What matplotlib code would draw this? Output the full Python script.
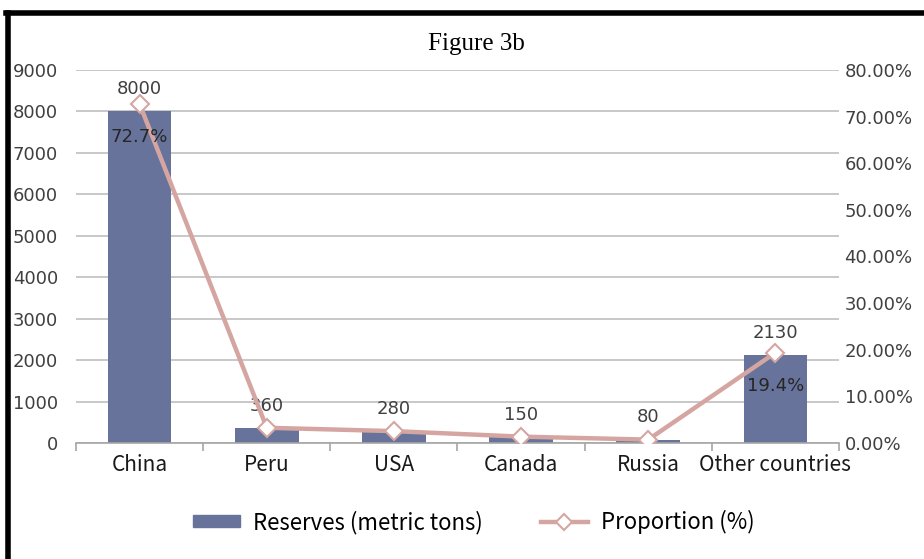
import numpy as np
import matplotlib.pyplot as plt
from matplotlib.patches import Patch
from matplotlib.lines import Line2D

# Data
countries = ["China", "Peru", "USA", "Canada", "Russia", "Other countries"]
reserves = [8000, 360, 280, 150, 80, 2130]
total = sum(reserves)
proportion = [r / total * 100 for r in reserves]
pct_labels = {0: "72.7%", 5: "19.4%"}

bar_color = "#67739a"
line_color = "#d5a6a1"
grid_color = "#bfbfbf"
txt_color = "#404040"
num_font = ["DejaVu Sans"]
cat_font = ["Noto Sans CJK SC", "DejaVu Sans"]

fig = plt.figure(figsize=(9.24, 5.59), dpi=100)
ax = fig.add_axes([76 / 924, 1 - 443 / 559, (839 - 76) / 924, (443 - 70) / 559])
ax2 = ax.twinx()

x = np.arange(len(countries))
ax.bar(x, reserves, width=0.5, color=bar_color, zorder=2)
ax.set_xlim(-0.5, len(countries) - 0.5)
ax.set_ylim(0, 9000)
ax.set_yticks(np.arange(0, 9001, 1000))
ax.yaxis.grid(True, color=grid_color, linewidth=1.2, zorder=0)
ax.set_axisbelow(True)
for s in ["top", "left", "right"]:
    ax.spines[s].set_visible(False)
ax.spines["bottom"].set_color("#a6a6a6")
ax.spines["bottom"].set_linewidth(1.2)
ax.tick_params(axis="y", length=0, pad=13, labelsize=13, labelcolor=txt_color)
for t in ax.get_yticklabels():
    t.set_fontfamily(num_font)

# x ticks: labels at centres, tick marks at boundaries
ax.set_xticks(x)
ax.set_xticklabels(countries, fontsize=15, color="#1a1a1a", family=cat_font)
ax.tick_params(axis="x", which="major", length=0, pad=8)
ax.set_xticks(np.arange(-0.5, len(countries)), minor=True)
ax.tick_params(axis="x", which="minor", length=6, color="#a6a6a6", width=1.2)

for xi, r in zip(x, reserves):
    ax.annotate(str(r), (xi, r), xytext=(0, 16), textcoords="offset points",
                ha="center", va="center", fontsize=13, color=txt_color,
                family=num_font)

# proportion line
ax2.plot(x, proportion, color=line_color, linewidth=3.2, marker="D",
         markersize=9, markerfacecolor="white", markeredgecolor=line_color,
         markeredgewidth=1.5, zorder=3)
ax2.set_ylim(0, 80)
ax2.set_yticks(np.arange(0, 81, 10))
ax2.set_yticklabels([f"{v:.2f}%" for v in np.arange(0, 81, 10)])
for s in ["top", "left", "right", "bottom"]:
    ax2.spines[s].set_visible(False)
ax2.tick_params(axis="y", length=0, pad=4, labelsize=13, labelcolor=txt_color)
for t in ax2.get_yticklabels():
    t.set_fontfamily(num_font)

for i, lab in pct_labels.items():
    ax2.annotate(lab, (x[i], proportion[i]), xytext=(0, -24),
                 textcoords="offset points", ha="center", va="center",
                 fontsize=13, color="#262626", family=num_font)

fig.text(476 / 924, 1 - 44 / 559, "Figure 3b", ha="center", va="center",
         fontsize=18, family=["Liberation Serif", "DejaVu Serif"])

handles = [Patch(color=bar_color),
           Line2D([0], [0], color=line_color, linewidth=3.2, marker="D",
                  markersize=8, markerfacecolor="white",
                  markeredgecolor=line_color, markeredgewidth=1.5)]
fig.legend(handles, ["Reserves (metric tons)", "Proportion (%)"],
           loc="center", bbox_to_anchor=(474 / 924, 1 - 522 / 559), ncol=2,
           frameon=False, handlelength=2.1, handleheight=0.45,
           handletextpad=0.6, columnspacing=2.6,
           prop={"family": cat_font, "size": 16})

# black frame on top and left
fig.add_artist(Line2D([6 / 924, 1], [1 - 13 / 559, 1 - 13 / 559],
                      color="black", linewidth=4, transform=fig.transFigure))
fig.add_artist(Line2D([8 / 924, 8 / 924], [0, 1 - 13 / 559],
                      color="black", linewidth=4, transform=fig.transFigure))

fig.savefig("out.png", dpi=100)
